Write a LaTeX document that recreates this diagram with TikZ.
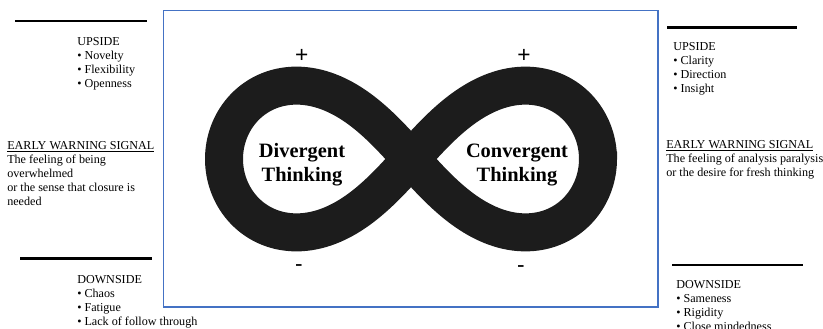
\documentclass[tikz,border=0pt]{standalone}
\usepackage{fontspec}
\setmainfont{Liberation Serif}
\newfontfamily\signfont{Liberation Sans}
\definecolor{boxblue}{HTML}{4472C4}
\definecolor{loopblack}{rgb}{0.11,0.11,0.11}

\begin{document}
\begin{tikzpicture}[x=0.75pt, y=-0.75pt,
    every node/.style={inner sep=0pt},
    sidenote/.style={anchor=base west, align=left, font=\fontsize{9.1}{10.5}\selectfont},
    sidebar/.style={line width=2pt, black},
    loopname/.style={align=center, font=\fontsize{15.3}{18}\selectfont\bfseries},
    sign/.style={font=\signfont\fontsize{17}{17}\selectfont}]
        \useasboundingbox (0,0) rectangle (823,328);

        % frame round the loop
        \draw[boxblue, line width=1pt] (163.5,10.7) rectangle (658,307);

        % infinity loop
        \draw[loopblack, line width=28.5pt]
          plot[domain=0:360, samples=240, smooth cycle, variable=\t]
          ({411+187*cos(\t)/(1+sin(\t)^2)}, {159+1.11*187*sin(\t)*cos(\t)/(1+sin(\t)^2)});

        \node[loopname] (divergent) at (302,165) {Divergent\\Thinking};
        \node[loopname] (convergent) at (517,165) {Convergent\\Thinking};

        % signs
        \node[sign] (plusleft) at (301.7,56) {+};
        \node[sign] (plusright) at (524,55.5) {+};
        \node[sign] (minusleft) at (299,268) {-};
        \node[sign] (minusright) at (521,269.5) {-};

        % left side (nodes sit on their last baseline)
        \draw[sidebar] (15,21) -- (147,21);
        \node[sidenote] (leftup) at (77,87.4)
          {UPSIDE\\\textbullet{} Novelty\\\textbullet{} Flexibility\\\textbullet{} Openness};
        \node[sidenote] (leftwarn) at (7,205.7)
          {\underline{EARLY WARNING SIGNAL}\\The feeling of being\\overwhelmed\\or the sense that closure is\\needed};
        \draw[sidebar] (20,258.3) -- (152,258.3);
        \node[sidenote] (leftdown) at (77,325)
          {DOWNSIDE\\\textbullet{} Chaos\\\textbullet{} Fatigue\\\textbullet{} Lack of follow through};

        % right side
        \draw[sidebar] (667,27.7) -- (797,27.7);
        \node[sidenote] (rightup) at (673,92.4)
          {UPSIDE\\\textbullet{} Clarity\\\textbullet{} Direction\\\textbullet{} Insight};
        \node[sidenote] (rightwarn) at (666,176.7)
          {\underline{EARLY WARNING SIGNAL}\\The feeling of analysis paralysis\\or the desire for fresh thinking};
        \draw[sidebar] (672,265) -- (803,265);
        \node[sidenote] (rightdown) at (676,330)
          {DOWNSIDE\\\textbullet{} Sameness\\\textbullet{} Rigidity\\\textbullet{} Close mindedness};
\end{tikzpicture}
\end{document}
